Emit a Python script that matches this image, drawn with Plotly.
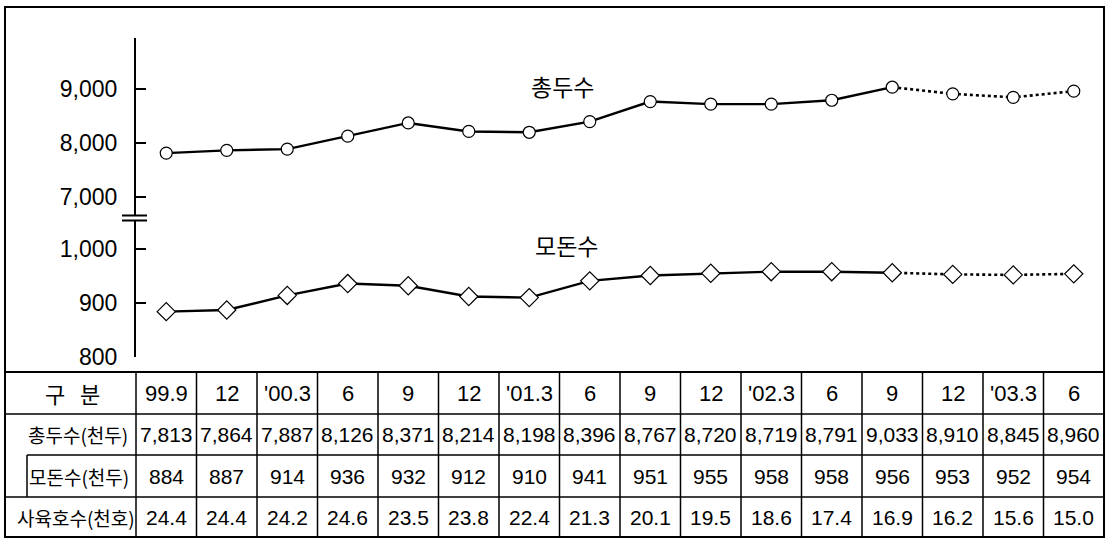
import plotly.graph_objects as go

# ---------------- data ----------------
periods = ["99.9", "12", "'00.3", "6", "9", "12", "'01.3", "6", "9", "12",
           "'02.3", "6", "9", "12", "'03.3", "6"]
total_heads = [7813, 7864, 7887, 8126, 8371, 8214, 8198, 8396, 8767, 8720,
               8719, 8791, 9033, 8910, 8845, 8960]
sow_heads = [884, 887, 914, 936, 932, 912, 910, 941, 951, 955,
             958, 958, 956, 953, 952, 954]
farm_households = [24.4, 24.4, 24.2, 24.6, 23.5, 23.8, 22.4, 21.3, 20.1, 19.5,
                   18.6, 17.4, 16.9, 16.2, 15.6, 15.0]
row_labels = ["구   분", "총두수(천두)", "모돈수(천두)", "사육호수(천호)"]
series_names = ["총두수", "모돈수"]
upper_ticks = [7000, 8000, 9000]
lower_ticks = [800, 900, 1000]
solid_until = 12  # index from which lines become dotted (estimates)

# ---------------- layout helpers ----------------
W, H = 1107, 539
def px(p):
    return p / W
def py(p):
    return 1 - p / H

NUM_FONT = "Liberation Sans, Arial"
KR_FONT = "Noto Sans CJK KR, Noto Sans, sans-serif"

x_idx = list(range(len(periods)))

fig = go.Figure()

def add_series(values, yaxis, symbol, size):
    fig.add_trace(go.Scatter(x=x_idx[:solid_until + 1], y=values[:solid_until + 1],
                             yaxis=yaxis, mode="lines",
                             line=dict(color="black", width=2.4),
                             showlegend=False, hoverinfo="skip"))
    fig.add_trace(go.Scatter(x=x_idx[solid_until:], y=values[solid_until:],
                             yaxis=yaxis, mode="lines",
                             line=dict(color="black", width=2.6, dash="dot"),
                             showlegend=False, hoverinfo="skip"))
    fig.add_trace(go.Scatter(x=x_idx, y=values, yaxis=yaxis, mode="markers",
                             marker=dict(symbol=symbol, size=size, color="white",
                                         line=dict(color="black", width=1.2)),
                             showlegend=False, cliponaxis=False))

add_series(total_heads, "y", "circle", 12)
add_series(sow_heads, "y2", "diamond", 14)

axis_common = dict(showline=True, linecolor="black", linewidth=2,
                   ticks="inside", ticklen=10, tickwidth=2, tickcolor="black",
                   showgrid=False, zeroline=False, tickformat=",d",
                   tickfont=dict(family=NUM_FONT, size=23, color="black"),
                   ticklabelstandoff=12, automargin=False)

fig.update_layout(
    width=W, height=H,
    margin=dict(l=0, r=0, t=0, b=0, pad=0, autoexpand=False),
    paper_bgcolor="white", plot_bgcolor="rgba(0,0,0,0)",
    xaxis=dict(domain=[px(136), px(1104)], range=[-0.5, len(periods) - 0.5],
               visible=False, anchor="y2", automargin=False),
    yaxis=dict(domain=[py(218), py(38)], range=[6611, 9944],
               tickvals=upper_ticks, anchor="x", **axis_common),
    yaxis2=dict(domain=[py(357), py(218)], range=[800, 1057.4],
                tickvals=lower_ticks, anchor="x", **axis_common),
)

shapes = []
line_thin = dict(color="black", width=1.5)
# outer frame
shapes.append(dict(type="rect", xref="paper", yref="paper",
                   x0=px(5), x1=px(1104), y0=py(537), y1=py(7),
                   line=dict(color="black", width=2)))
# axis break marks
shapes.append(dict(type="rect", xref="paper", yref="paper",
                   x0=px(123), x1=px(147), y0=py(220), y1=py(216),
                   fillcolor="white", line=dict(width=0)))
for yb in (215.5, 220.5):
    shapes.append(dict(type="line", xref="paper", yref="paper",
                       x0=px(122), x1=px(147), y0=py(yb), y1=py(yb),
                       line=dict(color="black", width=2)))

# table lines
row_edges = [372, 414, 455, 497, 537]
shapes.append(dict(type="line", xref="paper", yref="paper",
                   x0=px(5), x1=px(1104), y0=py(372), y1=py(372),
                   line=dict(color="black", width=2)))
shapes.append(dict(type="line", xref="paper", yref="paper",
                   x0=px(5), x1=px(1104), y0=py(414), y1=py(414), line=line_thin))
shapes.append(dict(type="line", xref="paper", yref="paper",
                   x0=px(27), x1=px(1104), y0=py(455), y1=py(455), line=line_thin))
shapes.append(dict(type="line", xref="paper", yref="paper",
                   x0=px(5), x1=px(1104), y0=py(497), y1=py(497), line=line_thin))
shapes.append(dict(type="line", xref="paper", yref="paper",
                   x0=px(27), x1=px(27), y0=py(455), y1=py(497), line=line_thin))
shapes.append(dict(type="line", xref="paper", yref="paper",
                   x0=px(136), x1=px(136), y0=py(372), y1=py(537), line=line_thin))
for i in range(1, len(periods)):
    shapes.append(dict(type="line", xref="x", yref="paper",
                       x0=i - 0.5, x1=i - 0.5, y0=py(372), y1=py(537), line=line_thin))
fig.update_layout(shapes=shapes)

ann = []
row_centers = [(row_edges[k] + row_edges[k + 1]) / 2 for k in range(4)]
label_x = [72, 78, 79, 76]
# row labels
for k, lab in enumerate(row_labels):
    ann.append(dict(xref="paper", yref="paper", x=px(label_x[k]), y=py(row_centers[k]),
                    xanchor="center", yanchor="middle",
                    text=lab, showarrow=False,
                    font=dict(family=KR_FONT, size=22 if k == 0 else 19, color="black")))
# table cells
rows = [periods,
        [f"{v:,}" for v in total_heads],
        [f"{v}" for v in sow_heads],
        [f"{v:.1f}" for v in farm_households]]
for k, vals in enumerate(rows):
    for i, v in enumerate(vals):
        ann.append(dict(xref="x", yref="paper", x=i, y=py(row_centers[k]),
                        xanchor="center", yanchor="middle",
                        text=v, showarrow=False,
                        font=dict(family=NUM_FONT, size=22 if k == 0 else 21,
                                  color="black")))
# series labels
ann.append(dict(xref="paper", yref="paper", x=px(562), y=py(86),
                xanchor="center", yanchor="middle",
                text=series_names[0], showarrow=False,
                font=dict(family=KR_FONT, size=23, color="black")))
ann.append(dict(xref="paper", yref="paper", x=px(566), y=py(245),
                xanchor="center", yanchor="middle",
                text=series_names[1], showarrow=False,
                font=dict(family=KR_FONT, size=23, color="black")))
fig.update_layout(annotations=ann)

fig.write_html("out.html")
